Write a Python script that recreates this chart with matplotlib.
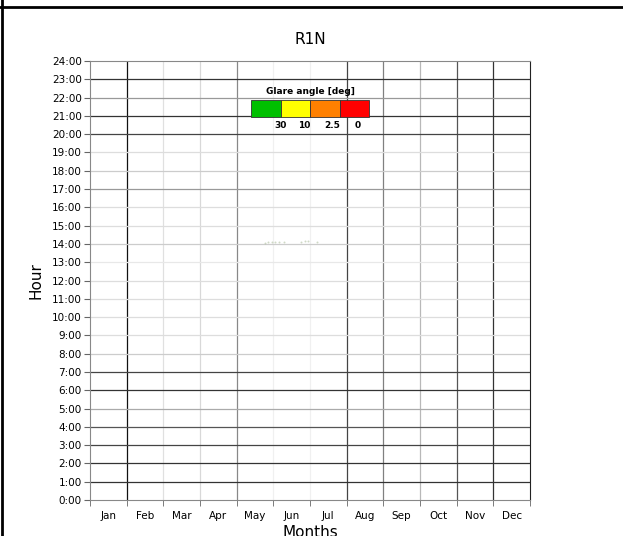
import numpy as np
import matplotlib.pyplot as plt
from matplotlib.lines import Line2D
from matplotlib.patches import Rectangle

months = ['Jan', 'Feb', 'Mar', 'Apr', 'May', 'Jun', 'Jul', 'Aug', 'Sep', 'Oct', 'Nov', 'Dec']
hours = list(range(0, 25))
hour_labels = ['%d:00' % h for h in hours]

# glare legend
glare_colors = ['#00c000', '#ffff00', '#ff8000', '#ff0000']
glare_labels = ['30', '10', '2.5', '0']

# a few faint glare points (month position, hour)
glare_month = [4.78, 4.85, 4.95, 5.05, 5.15, 5.3, 5.75, 5.85, 5.95, 6.2]
glare_hour = [14.05, 14.08, 14.1, 14.1, 14.12, 14.12, 14.12, 14.14, 14.14, 14.12]

# grid line shades (rendering aliasing in the original)
vline_grey = ['#111111', '#e0e0e0', '#d8d8d8', '#888888', '#f0f0f0', '#f0f0f0',
              '#444444', '#808080', '#b8b8b8', '#555555', '#333333']
hline_grey = ['#333333', '#333333', '#444444', '#555555', '#aaaaaa', '#333333',
              '#444444', '#cccccc', '#dddddd', '#dddddd', '#dddddd', '#dddddd',
              '#e8e8e8', '#cccccc', '#dddddd', '#dddddd', '#999999', '#cccccc',
              '#dddddd', '#444444', '#333333', '#999999', '#333333']

fig = plt.figure(figsize=(6.23, 5.36), dpi=100)
ax = fig.add_axes([90/623, 1-500/536, 440/623, 439/536])

for i, c in enumerate(vline_grey):
    ax.axvline(i + 1, color=c, lw=0.9, zorder=1)
for h, c in zip(hours[1:], hline_grey):
    ax.axhline(h, color=c, lw=0.9, zorder=1)

ax.scatter(glare_month, glare_hour, s=2, color='#b0c0a0', alpha=0.6, lw=0, zorder=2)

ax.set_xlim(0, 12)
ax.set_ylim(0, 24)
ax.set_yticks(hours)
ax.set_yticklabels(hour_labels, fontsize=7.5)
ax.set_xticks(np.arange(12) + 0.5)
ax.set_xticklabels(months, fontsize=7.5)
ax.set_xticks(np.arange(13), minor=True)
ax.tick_params(axis='x', which='major', length=0, pad=8)
ax.tick_params(axis='x', which='minor', length=4, color='#666666')
ax.tick_params(axis='y', length=4, color='#666666', pad=2)
for s in ['left', 'bottom', 'top']:
    ax.spines[s].set_color('#888888')
ax.spines['right'].set_color('#222222')

ax.set_title('R1N', fontsize=11, pad=12)
ax.set_ylabel('Hour', fontsize=11, labelpad=6)
ax.set_xlabel('Months', fontsize=11, labelpad=3)

# colour legend
lx0, ly0, w, hgt = 251, 100, 29.5, 17
for i, c in enumerate(glare_colors):
    fig.add_artist(Rectangle(((lx0 + i*w)/623, 1-(ly0+hgt)/536), w/623, hgt/536,
                             facecolor=c, edgecolor='#333333', lw=0.6,
                             transform=fig.transFigure))
label_right = [287, 310, 340, 361]
for x, t in zip(label_right, glare_labels):
    fig.text(x/623, 1-126/536, t, fontsize=6.5, fontweight='bold',
             ha='right', va='center')
fig.text(310/623, 1-92/536, 'Glare angle [deg]', fontsize=6.5, fontweight='bold',
         ha='center', va='center')

# page frame
fig.add_artist(Line2D([0, 1], [1-7/536, 1-7/536], color='black', lw=2,
                      transform=fig.transFigure))
fig.add_artist(Line2D([2/623, 2/623], [0, 1], color='black', lw=2,
                      transform=fig.transFigure))

fig.savefig('out.png', dpi=100)
